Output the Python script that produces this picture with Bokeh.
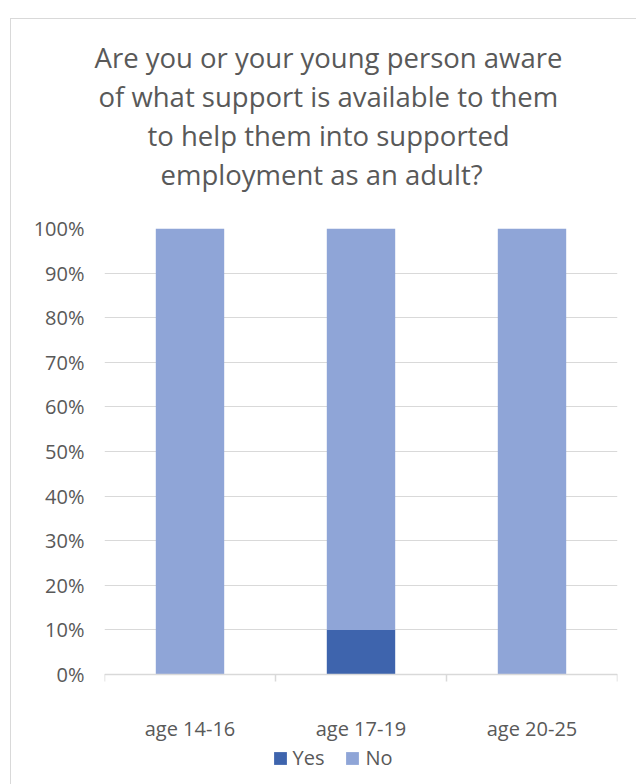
from bokeh.plotting import figure
from bokeh.models import (ColumnDataSource, FixedTicker, NumeralTickFormatter, LinearAxis,
                          Title, Legend, LegendItem, Range1d)
from bokeh.embed import file_html
from bokeh.resources import INLINE

# ---- data ----
categories = ["age 14-16", "age 17-19", "age 20-25"]
yes_share = [0.0, 0.10, 0.0]
no_share = [1.0, 0.90, 1.0]
series_names = ["Yes", "No"]
y_ticks = [0.0, 0.1, 0.2, 0.3, 0.4, 0.5, 0.6, 0.7, 0.8, 0.9, 1.0]
title_lines = ["Are you or your young person aware",
               "of what support is available to them",
               "to help them into supported",
               "employment as an adult?"]

# ---- styles / layout ----
TEXT = "#595959"
GRID = "#D9D9D9"
COLORS = ["#3E64AD", "#8FA5D7"]
FONT = "Open Sans"
title_offsets = [-10, -6, 43, 56]   # left offsets (px) so that the lines centre on the chart area
Y_BOTTOM = -0.2377                  # frame extends below 0 to hold axis labels and legend

positions = [i + 0.5 for i in range(len(categories))]
boundaries = [float(i) for i in range(len(categories) + 1)]

src = ColumnDataSource(dict(x=positions, Yes=yes_share, No=no_share))

p = figure(frame_width=513, frame_height=552, output_backend="svg", toolbar_location=None,
           x_range=Range1d(0, len(categories)), y_range=Range1d(Y_BOTTOM, 1),
           x_axis_location=None,
           min_border_left=93, min_border_right=19, min_border_top=209, min_border_bottom=4,
           outline_line_color=None)
p.styles = {"border-top": "1px solid #D9D9D9", "border-left": "1px solid #D9D9D9",
            "position": "relative", "left": "10px", "top": "18px"}

renderers = p.vbar_stack(series_names, x="x", width=0.4, source=src,
                         color=COLORS, line_color=None)

# y axis
ya = p.yaxis[0]
ya.ticker = FixedTicker(ticks=y_ticks)
ya.formatter = NumeralTickFormatter(format="0%")
ya.axis_line_color = None
ya.major_tick_line_color = None
ya.minor_tick_line_color = None
ya.major_tick_out = 0
ya.major_tick_in = 0
ya.major_label_standoff = 20
ya.major_label_text_font = FONT
ya.major_label_text_font_size = "20px"
ya.major_label_text_color = TEXT

p.ygrid.ticker = FixedTicker(ticks=y_ticks)
p.ygrid.grid_line_color = GRID
p.xgrid.visible = False

# x axis at y = 0: boundary ticks
ax_ticks = LinearAxis(ticker=FixedTicker(ticks=boundaries), fixed_location=0,
                      major_label_overrides={b: "" for b in boundaries},
                      axis_line_color=GRID, axis_line_width=1.5,
                      major_tick_line_color=GRID, major_tick_line_width=1.5,
                      major_tick_out=7, major_tick_in=0,
                      minor_tick_line_color=None, major_label_standoff=0,
                      major_label_text_font_size="1px")
p.add_layout(ax_ticks, "below")

# x axis at y = 0: category labels
ax_labels = LinearAxis(ticker=FixedTicker(ticks=positions), fixed_location=0,
                       major_label_overrides={pos: c for pos, c in zip(positions, categories)},
                       axis_line_color=None, major_tick_line_color=None,
                       minor_tick_line_color=None, major_tick_out=0, major_tick_in=0,
                       major_label_standoff=41,
                       major_label_text_font=FONT, major_label_text_font_size="20px",
                       major_label_text_color=TEXT)
p.add_layout(ax_labels, "below")

legend = Legend(items=[LegendItem(label=n, renderers=[r]) for n, r in zip(series_names, renderers)],
                orientation="horizontal", location=(167.5, 9),
                glyph_width=16, glyph_height=16, label_standoff=5, spacing=20,
                padding=3, margin=0, border_line_color=None, background_fill_alpha=0,
                label_text_font=FONT, label_text_font_size="20px", label_text_color=TEXT)
p.add_layout(legend, "center")

# blank spacer between the plot frame and the title block
p.add_layout(Title(text=" ", text_font_size="10px", standoff=23), "above")

# title lines (innermost first)
for line, off in reversed(list(zip(title_lines, title_offsets))):
    p.add_layout(Title(text=line, align="left", offset=off, text_font=FONT,
                       text_font_size="27.5px", text_font_style="normal",
                       text_color=TEXT, standoff=0), "above")

open("out.html", "w").write(file_html(p, INLINE))
